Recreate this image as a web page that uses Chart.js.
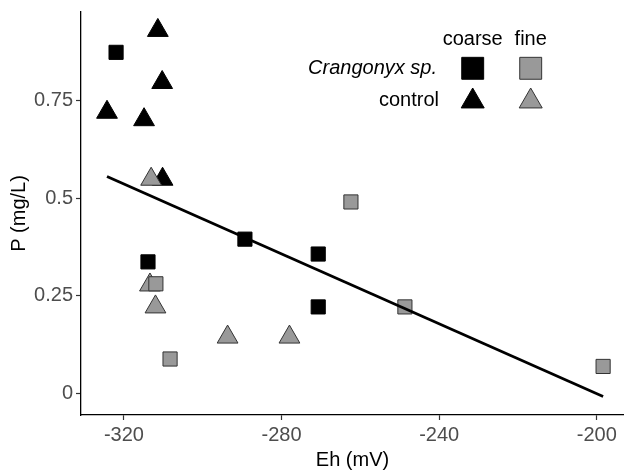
<!DOCTYPE html>
<html><head><meta charset="utf-8">
<script src="https://cdn.jsdelivr.net/npm/chart.js@4"></script>
<style>html,body{margin:0;padding:0;background:#fff;overflow:hidden}canvas{display:block}</style>
</head><body>
<canvas id="c" width="624" height="472"></canvas>
<script>
// ---- data ----
const crangonyxCoarseX = [-322.0, -313.9, -289.3, -270.7, -270.7];
const crangonyxCoarseY = [0.872, 0.337, 0.395, 0.357, 0.222];
const crangonyxFineX   = [-311.9, -308.3, -262.4, -248.7, -198.4];
const crangonyxFineY   = [0.281, 0.089, 0.490, 0.222, 0.070];
const controlCoarseX   = [-311.4, -310.3, -324.3, -314.9, -310.2];
const controlCoarseY   = [0.928, 0.795, 0.719, 0.700, 0.548];
const controlFineX     = [-313.1, -313.4, -312.0, -293.7, -278.0];
const controlFineY     = [0.548, 0.278, 0.222, 0.145, 0.145];
const fitLineX = [-324.3, -198.4];
const fitLineY = [0.555, -0.007];
const xTicks = [-320, -280, -240, -200];
const xTickLabels = ['-320', '-280', '-240', '-200'];
const yTicks = [0, 0.25, 0.5, 0.75];
const yTickLabels = ['0', '0.25', '0.5', '0.75'];
const legendColumns = ['coarse', 'fine'];
const legendRows = ['Crangonyx sp.', 'control'];

const FONT = "'Liberation Sans', Arial, Helvetica, sans-serif";
const BLACK = '#000000', GREY = '#999999', GREY_EDGE = '#333333';
const zip = (xs, ys) => xs.map((x, i) => ({x, y: ys[i]}));

const legendPlugin = {
  id: 'gridLegend',
  afterDraw(chart) {
    const ctx = chart.ctx;
    ctx.save();
    ctx.fillStyle = '#000';
    ctx.font = '20px ' + FONT;
    ctx.textAlign = 'center';
    ctx.textBaseline = 'middle';
    const colX = [472.7, 530.7];
    const rowY = [68.3, 101.3];
    legendColumns.forEach((t, i) => ctx.fillText(t, colX[i], 39));
    ctx.textAlign = 'right';
    ctx.font = 'italic 20px ' + FONT;
    ctx.fillText(legendRows[0], 437, rowY[0]);
    ctx.font = '20px ' + FONT;
    ctx.fillText(legendRows[1], 439, 100);
    const styles = [['rect', 15.5], ['triangle', 13.3]];
    const fills = [[BLACK, BLACK], [GREY, GREY_EDGE]];
    for (let r = 0; r < 2; r++) {
      for (let c = 0; c < 2; c++) {
        ctx.fillStyle = fills[c][0];
        ctx.strokeStyle = fills[c][1];
        ctx.lineWidth = 1;
        Chart.helpers.drawPoint(ctx, {pointStyle: styles[r][0], radius: styles[r][1], rotation: 0, borderWidth: 1}, colX[c], rowY[r]);
      }
    }
    ctx.restore();
  }
};

new Chart(document.getElementById('c'), {
  type: 'scatter',
  data: {
    datasets: [
      {label: 'fit', data: zip(fitLineX, fitLineY), showLine: true, borderColor: BLACK, borderWidth: 2.8, pointRadius: 0, fill: false, order: 0},
      {label: 'Crangonyx fine', data: zip(crangonyxFineX, crangonyxFineY), pointStyle: 'rect', pointRadius: 10, backgroundColor: GREY, borderColor: GREY_EDGE, borderWidth: 1, order: 1},
      {label: 'Crangonyx coarse', data: zip(crangonyxCoarseX, crangonyxCoarseY), pointStyle: 'rect', pointRadius: 10, backgroundColor: BLACK, borderColor: BLACK, borderWidth: 1, order: 2},
      {label: 'control fine', data: zip(controlFineX, controlFineY), pointStyle: 'triangle', pointRadius: 12, backgroundColor: GREY, borderColor: GREY_EDGE, borderWidth: 1, order: 3},
      {label: 'control coarse', data: zip(controlCoarseX, controlCoarseY), pointStyle: 'triangle', pointRadius: 12, backgroundColor: BLACK, borderColor: BLACK, borderWidth: 1, order: 4}
    ]
  },
  options: {
    responsive: false,
    animation: false,
    events: [],
    layout: {autoPadding: false, padding: {top: 12, right: 0, left: 0, bottom: 0}},
    plugins: {legend: {display: false}, tooltip: {enabled: false}},
    scales: {
      x: {
        type: 'linear', min: -330.9, max: -193.1,
        afterBuildTicks: s => { s.ticks = xTicks.map(v => ({value: v})); },
        afterFit: s => { s.height = 57; s.paddingLeft = 0; s.paddingRight = 0; },
        ticks: {font: {family: FONT, size: 20}, color: '#4d4d4d', padding: 3, maxRotation: 0,
                callback: v => xTickLabels[xTicks.indexOf(v)]},
        grid: {drawOnChartArea: false, drawTicks: true, tickLength: 5, tickColor: '#333', tickWidth: 1.2},
        border: {display: true, color: '#000', width: 1.3},
        title: {display: true, text: 'Eh (mV)', font: {family: FONT, size: 20}, color: '#000', padding: {top: 0, bottom: 0}}
      },
      y: {
        type: 'linear', min: -0.054, max: 0.975,
        afterBuildTicks: s => { s.ticks = yTicks.map(v => ({value: v})); },
        afterFit: s => { s.width = 81; s.paddingTop = 0; s.paddingBottom = 0; },
        ticks: {font: {family: FONT, size: 20}, color: '#4d4d4d', padding: 3,
                callback: v => yTickLabels[yTicks.indexOf(v)]},
        grid: {drawOnChartArea: false, drawTicks: true, tickLength: 5, tickColor: '#333', tickWidth: 1.2},
        border: {display: true, color: '#000', width: 1.3},
        title: {display: true, text: 'P (mg/L)', font: {family: FONT, size: 20}, color: '#000', padding: {top: 7, bottom: 0}}
      }
    }
  },
  plugins: [legendPlugin]
});
</script>
</body></html>
